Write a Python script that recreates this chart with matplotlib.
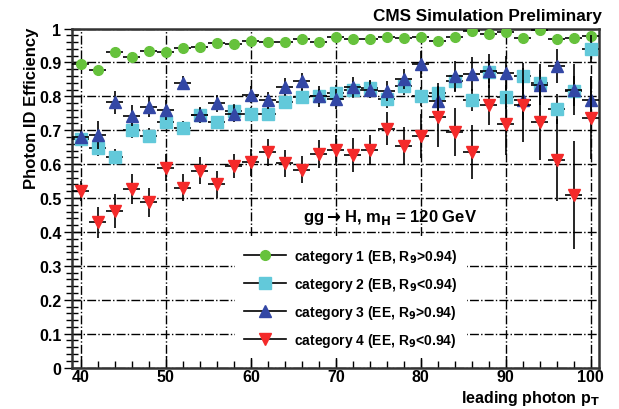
import numpy as np
import matplotlib
matplotlib.use("Agg")
import matplotlib.pyplot as plt
from matplotlib.lines import Line2D
from matplotlib.ticker import MultipleLocator, FormatStrFormatter

plt.rcParams['font.family'] = ['Liberation Sans', 'DejaVu Sans']
plt.rcParams['font.weight'] = 'bold'
plt.rcParams['mathtext.default'] = 'bf'

# leading photon pT bin centres (bins 2 GeV wide)
pt = np.arange(40, 101, 2)

# category 1 (EB, R9 > 0.94)
eff_cat1 = [0.895, 0.877, 0.930, 0.917, 0.934, 0.931, 0.943, 0.946, 0.957, 0.955,
            0.964, 0.959, 0.959, 0.969, 0.961, 0.974, 0.969, 0.969, 0.974, 0.972,
            0.974, 0.964, 0.974, 0.992, 0.983, 0.990, 0.972, 0.995, 0.969, 0.972, 0.978]
err_cat1 = [0.006, 0.008, 0.005, 0.006, 0.005, 0.005, 0.005, 0.005, 0.005, 0.005,
            0.006, 0.006, 0.006, 0.006, 0.007, 0.007, 0.008, 0.008, 0.008, 0.009,
            0.009, 0.010, 0.010, 0.010, 0.011, 0.012, 0.013, 0.012, 0.015, 0.015, 0.015]

# category 2 (EB, R9 < 0.94)
eff_cat2 = [0.675, 0.649, 0.622, 0.700, 0.684, 0.723, 0.708, 0.745, 0.723, 0.757,
            0.748, 0.748, 0.784, 0.799, 0.800, 0.810, 0.820, 0.824, 0.793, 0.831,
            0.800, 0.810, 0.846, 0.789, 0.873, 0.797, 0.859, 0.839, 0.762, 0.816, 0.941]
err_cat2 = [0.020, 0.025, 0.022, 0.022, 0.022, 0.020, 0.020, 0.020, 0.020, 0.020,
            0.020, 0.020, 0.022, 0.022, 0.022, 0.024, 0.025, 0.025, 0.026, 0.028,
            0.028, 0.030, 0.030, 0.032, 0.035, 0.035, 0.038, 0.040, 0.045, 0.045, 0.040]

# category 3 (EE, R9 > 0.94)
eff_cat3 = [0.680, 0.686, 0.782, 0.743, 0.770, 0.760, 0.839, 0.745, 0.779, 0.748,
            0.805, 0.789, 0.828, 0.844, 0.800, 0.792, 0.828, 0.819, 0.816, 0.851,
            0.895, 0.787, 0.859, 0.866, 0.876, 0.868, 0.789, 0.834, 0.889, 0.819, 0.789]
err_cat3 = [0.020, 0.040, 0.033, 0.030, 0.030, 0.030, 0.020, 0.025, 0.025, 0.025,
            0.025, 0.025, 0.025, 0.025, 0.030, 0.030, 0.030, 0.025, 0.030, 0.030,
            0.040, 0.040, 0.045, 0.050, 0.050, 0.050, 0.060, 0.060, 0.050, 0.075, 0.070]

# category 4 (EE, R9 < 0.94)
eff_cat4 = [0.520, 0.428, 0.461, 0.527, 0.487, 0.590, 0.531, 0.580, 0.541, 0.595,
            0.605, 0.635, 0.603, 0.583, 0.630, 0.642, 0.627, 0.642, 0.705, 0.654,
            0.684, 0.740, 0.695, 0.636, 0.774, 0.718, 0.774, 0.723, 0.612, 0.509, 0.735]
err_cat4 = [0.030, 0.045, 0.050, 0.045, 0.043, 0.040, 0.040, 0.040, 0.040, 0.035,
            0.040, 0.040, 0.040, 0.040, 0.040, 0.045, 0.050, 0.045, 0.050, 0.055,
            0.065, 0.090, 0.070, 0.080, 0.060, 0.090, 0.110, 0.110, 0.120, 0.160, 0.120]

labels = ["category 1 (EB, R$_9$>0.94)",
          "category 2 (EB, R$_9$<0.94)",
          "category 3 (EE, R$_9$>0.94)",
          "category 4 (EE, R$_9$<0.94)"]
colors = ['#66c23c', '#62c9da', '#3347a5', '#f42a2a']
markers = ['o', 's', '^', 'v']
msizes = [7, 8, 8, 8]

fig = plt.figure(figsize=(6.19, 4.10), dpi=100)
ax = fig.add_axes([0.117, 0.101, 0.851, 0.827])

series = [(eff_cat1, err_cat1), (eff_cat2, err_cat2), (eff_cat3, err_cat3), (eff_cat4, err_cat4)]
for i, (eff, err) in enumerate(series):
    ax.errorbar(pt, eff, yerr=err, xerr=1.0, fmt=markers[i], color=colors[i],
                ecolor='black', elinewidth=1.2, capsize=0, markersize=msizes[i],
                markeredgecolor=colors[i], zorder=3 + i)

ax.set_xlim(39, 101)
ax.set_ylim(0, 1)
ax.xaxis.set_major_locator(MultipleLocator(10))
ax.xaxis.set_minor_locator(MultipleLocator(2))
ax.yaxis.set_major_locator(MultipleLocator(0.1))
ax.yaxis.set_minor_locator(MultipleLocator(0.02))
ax.yaxis.set_major_formatter(FormatStrFormatter('%g'))
ax.tick_params(axis='both', which='major', direction='in', length=9, width=1,
               labelsize=11.5, pad=2)
ax.tick_params(axis='x', which='major', pad=1)
ax.tick_params(axis='y', which='major', direction='inout', length=12)
ax.tick_params(axis='both', which='minor', direction='in', length=5, width=1)
ax.tick_params(axis='y', which='minor', direction='inout', length=8)
for lbl in ax.get_xticklabels() + ax.get_yticklabels():
    lbl.set_fontweight('bold')

ax.grid(True, which='major', color='black', linestyle='-.', linewidth=1.0, zorder=1)
ax.set_axisbelow(True)
for sp in ax.spines.values():
    sp.set_linewidth(1.8)
    sp.set_color('#333333')

handles = [Line2D([], [], color='black', linewidth=1.2, marker=markers[i],
                  markerfacecolor=colors[i], markeredgecolor=colors[i],
                  markersize=msizes[i]) for i in range(4)]
leg = ax.legend(handles, labels, loc='upper left', bbox_to_anchor=(0.308, 0.385),
                frameon=True, fancybox=False, edgecolor='none', facecolor='white',
                framealpha=1.0, fontsize=10, handlelength=3.0, handletextpad=0.6,
                labelspacing=0.72, borderpad=0.7, borderaxespad=0)
leg.set_zorder(10)
for t in leg.get_texts():
    t.set_fontweight('bold')

ax.text(66.1, 0.447, r"gg$\rightarrow$H, m$_H$ = 120 GeV", fontsize=12,
        fontweight='bold', va='center', ha='left', zorder=12)

fig.text(602 / 619, 1 - 17 / 410, "CMS Simulation Preliminary", ha='right',
         va='center', fontsize=12.3, fontweight='bold')
fig.text(32 / 619, 1 - 28 / 410, "Photon ID Efficiency", rotation=90, ha='center',
         va='top', fontsize=12, fontweight='bold')
fig.text(600 / 619, 1 - 408 / 410, "leading photon p$_T$", ha='right', va='bottom',
         fontsize=11.5, fontweight='bold')

fig.savefig("out.png", dpi=100)
